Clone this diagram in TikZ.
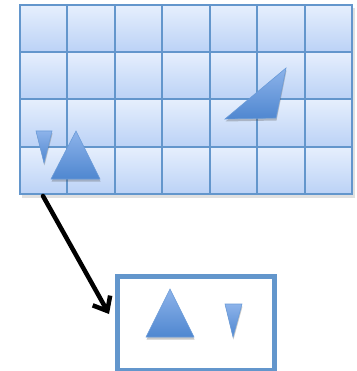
\documentclass[tikz,border=0pt]{standalone}
\usetikzlibrary{shadows,arrows.meta}
\definecolor{gridline}{HTML}{6396CC}
\definecolor{celltop}{HTML}{E6EFFD}
\definecolor{cellbot}{HTML}{BBD2F6}
\definecolor{tritop}{HTML}{8DB3EA}
\definecolor{tribot}{HTML}{4F87D0}
\definecolor{triedge}{HTML}{6A9BD8}
\tikzset{
  cell/.style={draw=gridline, line width=2.2pt, top color=celltop, bottom color=cellbot},
  tri/.style={draw=triedge, line width=0.6pt, top color=tritop, bottom color=tribot,
    drop shadow={shadow xshift=0.5pt, shadow yshift=-2.5pt, opacity=0.3, fill=black!70}},
  framebox/.style={draw=gridline, line width=4.5pt, fill=white},
  conn/.style={line width=4.5pt, line cap=round, -{Straight Barb[length=12pt,width=20pt,line width=4.5pt]}}
}
\begin{document}
\begin{tikzpicture}[x=1pt,y=-1pt]
\useasboundingbox (0,0) rectangle (356,371);
% grid shadow
\fill[black,opacity=0.12] (22,8) rectangle (355,198);
% grid cells
\foreach \i/\xa/\xb in {0/20/67,1/67/115,2/115/162,3/162/210,4/210/257,5/257/305,6/305/352}{
  \foreach \j/\ya/\yb in {0/5/52,1/52/99,2/99/147,3/147/194}{
    \path[cell] (\xa,\ya) rectangle (\xb,\yb);
  }
}
% triangles in grid
\path[tri] (36,131) -- (52,131) -- (44,163) -- cycle;
\path[tri] (76,131) -- (100,179) -- (51,179) -- cycle;
\path[tri] (286,68) -- (276,118) -- (225,119) -- cycle;
% bottom frame
\node[framebox, minimum width=157pt, minimum height=94pt, inner sep=0pt, anchor=north west] (frame) at (115,274) {};
\path[tri] (170,289) -- (194,337) -- (146,337) -- cycle;
\path[tri] (225,304) -- (242,304) -- (233,337) -- cycle;
% connector
\coordinate (start) at (43,196);
\coordinate (tip) at (109,314);
\draw[conn] (start) -- (tip);
\end{tikzpicture}
\end{document}
